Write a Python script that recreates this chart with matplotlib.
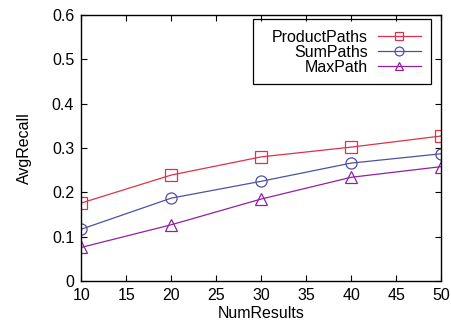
import matplotlib.pyplot as plt
from matplotlib.patches import Rectangle

plt.rcParams['font.family'] = ['Liberation Sans', 'DejaVu Sans']
plt.rcParams['font.size'] = 11

num_results = [10, 20, 30, 40, 50]
product_paths = [0.176, 0.239, 0.280, 0.302, 0.327]
sum_paths = [0.117, 0.187, 0.225, 0.266, 0.287]
max_path = [0.076, 0.127, 0.185, 0.234, 0.258]

fig = plt.figure(figsize=(4.51, 3.30), dpi=100)
ax = fig.add_axes([0.18, 0.148, 0.798, 0.807])

ax.plot(num_results, product_paths, color='#e0304a', lw=0.9, marker='s',
        ms=8, mfc='none', mew=0.9, label='ProductPaths')
ax.plot(num_results, sum_paths, color='#5050a0', lw=0.9, marker='o',
        ms=8, mfc='none', mew=0.9, label='SumPaths')
ax.plot(num_results, max_path, color='#9020a0', lw=0.9, marker='^',
        ms=8, mfc='none', mew=0.9, label='MaxPath')

ax.set_xlim(10, 50)
ax.set_ylim(0, 0.6)
ax.set_xticks(range(10, 51, 5))
ax.set_yticks([0, 0.1, 0.2, 0.3, 0.4, 0.5, 0.6])
ax.set_yticklabels(['0', '0.1', '0.2', '0.3', '0.4', '0.5', '0.6'])
ax.tick_params(direction='in', top=True, right=True, length=4, width=0.8,
               labelsize=11.5, pad=5)
for s in ax.spines.values():
    s.set_linewidth(1.0)

ax.set_xlabel('NumResults', fontsize=11.5, labelpad=2)
ax.set_ylabel('AvgRecall', fontsize=11.5, labelpad=14)

# key entries without frame, box drawn separately (wider on the left)
leg = ax.legend(loc='upper right', bbox_to_anchor=(0.944, 0.943),
                markerfirst=False, frameon=False, fontsize=11.5,
                handlelength=2.7, borderaxespad=0, borderpad=0,
                labelspacing=0.0, handletextpad=0.6, markerscale=0.8)
ax.add_patch(Rectangle((0.478, 0.741), 0.494, 0.244, transform=ax.transAxes,
                       fill=False, ec='black', lw=0.9, zorder=5))

fig.savefig('out.png', dpi=100)
